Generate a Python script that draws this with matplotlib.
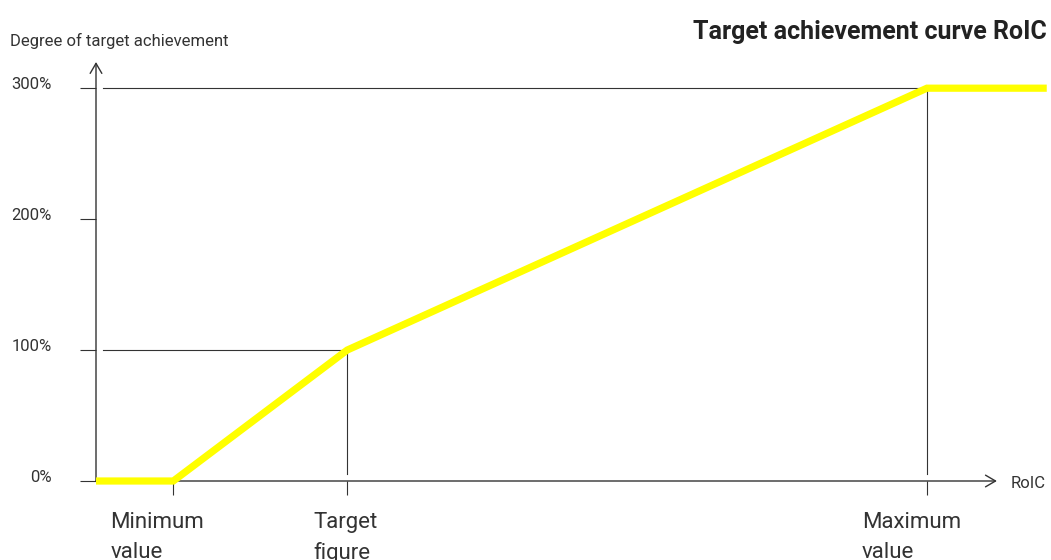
import matplotlib
matplotlib.use('Agg')
import matplotlib.pyplot as plt

plt.rcParams['font.family'] = ['Roboto', 'DejaVu Sans']

# curve: RoIC (arbitrary units) vs degree of target achievement (%)
roic = [0, 2.0, 6.5, 21.5, 24.6]
achievement = [0, 0, 100, 300, 300]

y_ticks = [0, 100, 200, 300]
y_tick_labels = ['0%', '100%', '200%', '300%']

x_marks = [2.0, 6.5, 21.5]
x_mark_labels = ['Minimum\nvalue', 'Target\nfigure', 'Maximum\nvalue']
x_mark_offsets = [-63, -34, -65]

ref_points_x = [6.5, 21.5]
ref_points_y = [100, 300]

grey = '#333333'
yellow = '#FFFF00'

W, H = 1051, 560
fig = plt.figure(figsize=(W / 100, H / 100), dpi=100)
ax = fig.add_axes([96 / W, 1 - 481 / H, 955 / W, 419 / H])
ax.set_xlim(0, 24.71)
ax.set_ylim(0, 320)
for s in ax.spines.values():
    s.set_visible(False)

# thin reference lines
gx = 7 / 38.65
gy = 7 / 1.309
for xr, yr in zip(ref_points_x, ref_points_y):
    ax.plot([gx, xr], [yr, yr], color=grey, lw=0.8, clip_on=False)
    ax.plot([xr, xr], [gy, yr], color=grey, lw=0.8, clip_on=False)

# axes with arrows
arrow = dict(arrowstyle='->,head_length=0.6,head_width=0.35', color=grey, lw=1.0,
             shrinkA=0, shrinkB=0, mutation_scale=12)
ax.annotate('', xy=(23.31, 0), xytext=(0, 0), arrowprops=arrow, annotation_clip=False)
ax.annotate('', xy=(0, 320), xytext=(0, 0), arrowprops=arrow, annotation_clip=False)

# the curve
ax.plot(roic, achievement, color=yellow, lw=5.2, solid_joinstyle='miter',
        solid_capstyle='butt', clip_on=False, zorder=5)

# ticks
ax.set_yticks(y_ticks)
ax.set_yticklabels([])
ax.tick_params(axis='y', length=11.5, width=0.8, color=grey, direction='out')
ax.set_xticks(x_marks)
ax.set_xticklabels([])
ax.tick_params(axis='x', length=10, width=0.8, color=grey, direction='out')

for yv, lab in zip(y_ticks, y_tick_labels):
    ax.annotate(lab, xy=(0, yv), xycoords=('axes fraction', 'data'),
                xytext=(-44, -1), textcoords='offset pixels',
                ha='right', va='baseline', fontsize=12, color=grey)

for xv, lab, dx in zip(x_marks, x_mark_labels, x_mark_offsets):
    ax.annotate(lab, xy=(xv, 0), xytext=(dx, -31), textcoords='offset pixels',
                ha='left', va='top', fontsize=16, color=grey, linespacing=1.54,
                annotation_clip=False)

fig.text(1047 / W, 1 - 32 / H, 'Target achievement curve RoIC', ha='right', va='center',
         fontsize=18, fontweight='bold', color='#222222')
fig.text(10 / W, 1 - 41 / H, 'Degree of target achievement', ha='left', va='center',
         fontsize=12, color=grey)
fig.text(1011 / W, 1 - 484 / H, 'RoIC', ha='left', va='center', fontsize=12, color=grey)

fig.savefig('out.png', dpi=100)
